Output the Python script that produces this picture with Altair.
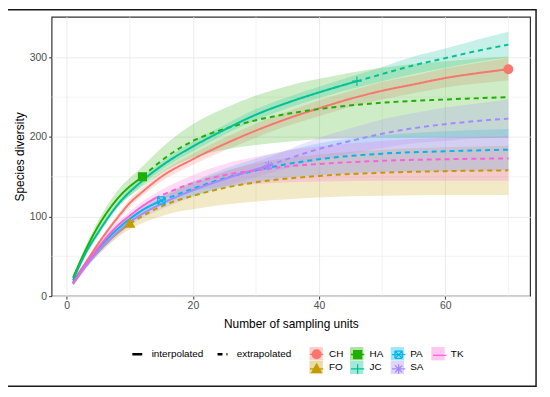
import altair as alt
import pandas as pd

# ---------------- data ----------------
sites = ["CH", "FO", "HA", "JC", "PA", "SA", "TK"]
obs_n = [70, 10, 12, 46, 15, 32, 14]          # observed sample size per site
site_colors = ["#F8766D", "#C49A00", "#1FAF00", "#00C094", "#00B6EB", "#A58AFF", "#FB61D7"]

CH_x = [1, 3, 5, 8, 10, 12, 15, 20, 25, 30, 35, 40, 45, 50, 55, 60, 65, 70]
CH_y = [18, 42, 66, 98, 117, 131, 150, 172, 191, 208, 223, 236, 248, 258, 266, 274, 280, 285]
CH_lo = [16, 39, 63, 94, 112, 126, 144, 165, 183, 199, 214, 226, 238, 247, 255, 262, 267, 271]
CH_hi = [20, 45, 69, 102, 122, 136, 156, 179, 199, 217, 232, 246, 258, 269, 277, 286, 293, 299]

FO_x = [1, 3, 5, 8, 10, 13, 16, 20, 25, 30, 40, 50, 60, 70]
FO_y = [16, 38, 56, 79, 91, 105, 116, 126, 136, 143, 151, 155, 157, 158]
FO_lo = [14, 35, 52, 73, 84, 95, 103, 109, 115, 119, 124, 126, 127, 127]
FO_hi = [18, 41, 60, 85, 98, 115, 129, 143, 157, 167, 178, 184, 187, 189]

HA_x = [1, 3, 5, 8, 12, 16, 20, 25, 30, 35, 40, 50, 60, 70]
HA_y = [23, 58, 88, 122, 150, 176, 195, 210, 221, 229, 235, 243, 247, 250]
HA_lo = [20, 53, 81, 112, 137, 159, 174, 184, 190, 194, 197, 199, 199, 199]
HA_hi = [26, 63, 95, 132, 163, 193, 216, 236, 252, 264, 273, 287, 295, 301]

JC_x = [1, 3, 5, 8, 12, 16, 20, 25, 30, 35, 40, 46, 50, 55, 60, 65, 70]
JC_y = [20, 54, 80, 114, 145, 169, 188, 209, 228, 243, 256, 270, 279, 290, 299, 308, 316]
JC_lo = [18, 51, 76, 110, 140, 164, 182, 203, 221, 236, 249, 262, 270, 279, 287, 294, 300]
JC_hi = [22, 57, 84, 118, 150, 174, 194, 215, 235, 250, 263, 278, 288, 301, 311, 322, 332]

PA_x = [1, 3, 5, 8, 10, 12, 15, 20, 25, 30, 35, 40, 50, 60, 70]
PA_y = [17, 40, 60, 84, 97, 108, 120, 135, 148, 158, 166, 172, 179, 182, 184]
PA_lo = [15, 37, 56, 80, 92, 103, 114, 126, 136, 143, 149, 152, 156, 157, 158]
PA_hi = [19, 43, 64, 88, 102, 113, 126, 144, 160, 173, 183, 192, 202, 207, 210]

SA_x = [1, 3, 5, 8, 10, 15, 20, 25, 32, 36, 40, 45, 50, 55, 60, 65, 70]
SA_y = [15, 37, 56, 80, 93, 116, 133, 147, 164, 175, 185, 195, 204, 211, 216, 220, 223]
SA_lo = [13, 34, 52, 75, 88, 109, 125, 138, 154, 163, 171, 179, 186, 192, 195, 198, 199]
SA_hi = [17, 40, 60, 85, 98, 123, 141, 156, 174, 187, 199, 211, 222, 230, 237, 242, 247]

TK_x = [1, 3, 5, 8, 10, 12, 14, 20, 25, 30, 35, 40, 50, 60, 70]
TK_y = [16, 40, 61, 88, 101, 113, 123, 142, 152, 158, 163, 166, 170, 172, 173]
TK_lo = [14, 37, 57, 83, 96, 107, 117, 132, 138, 141, 143, 144, 145, 145, 145]
TK_hi = [18, 43, 65, 93, 106, 119, 129, 152, 166, 175, 183, 188, 195, 199, 201]

x_ticks = [0, 20, 40, 60]
y_ticks = [0, 100, 200, 300]
minor_x = [10, 30, 50, 70]
minor_y = [50, 150, 250]
methods = ["interpolated", "extrapolated"]

series = {
    "CH": (CH_x, CH_y, CH_lo, CH_hi), "FO": (FO_x, FO_y, FO_lo, FO_hi),
    "HA": (HA_x, HA_y, HA_lo, HA_hi), "JC": (JC_x, JC_y, JC_lo, JC_hi),
    "PA": (PA_x, PA_y, PA_lo, PA_hi), "SA": (SA_x, SA_y, SA_lo, SA_hi),
    "TK": (TK_x, TK_y, TK_lo, TK_hi),
}

band_rows, line_rows, point_rows = [], [], []
for s, n in zip(sites, obs_n):
    xs, ys, los, his = series[s]
    for x, y, lo, hi in zip(xs, ys, los, his):
        band_rows.append({"site": s, "x": x, "lo": lo, "hi": hi})
        if x <= n:
            line_rows.append({"site": s, "x": x, "y": y, "method": methods[0]})
        if x >= n:
            line_rows.append({"site": s, "x": x, "y": y, "method": methods[1]})
        if x == n:
            point_rows.append({"site": s, "x": x, "y": y})

band_df = pd.DataFrame(band_rows)
line_df = pd.DataFrame(line_rows)
point_df = pd.DataFrame(point_rows)
empty_df = pd.DataFrame({"site": pd.Series([], dtype=str), "x": pd.Series([], dtype=float),
                         "y": pd.Series([], dtype=float)})


# ---------------- marker glyphs (stroked paths in the unit square) ----------------
def circ(r):
    return f"M{r},0A{r},{r},0,1,1,{-r},0A{r},{r},0,1,1,{r},0Z"


def hline(x0, x1, y):
    return f"M{x0:.3f},{y:.3f}L{x1:.3f},{y:.3f}"


def solid_circle():
    return "".join(circ(r) for r in (0.66, 0.52, 0.38, 0.24, 0.1))


def solid_square(h=0.6):
    p = f"M{-h},{-h}L{h},{-h}L{h},{h}L{-h},{h}Z"
    y = -h
    while y <= h + 1e-9:
        p += hline(-h, h, y)
        y += 0.13
    return p


def solid_triangle(top=-0.72, base=0.52, hw=0.7):
    p = f"M0,{top}L{hw},{base}L{-hw},{base}Z"
    y = top + 0.13
    while y <= base + 1e-9:
        w = hw * (y - top) / (base - top)
        p += hline(-w, w, y)
        y += 0.13
    return p


h = 0.55
boxed_x = (f"M{-h},{-h}L{h},{-h}M{h},{-h}L{h},{h}M{h},{h}L{-h},{h}M{-h},{h}L{-h},{-h}"
           f"M{-h},{-h}L{h},{h}M{h},{-h}L{-h},{h}")
plus = "M-0.72,0L0.72,0M0,-0.72L0,0.72"
aster = plus + "M-0.52,-0.52L0.52,0.52M0.52,-0.52L-0.52,0.52"
glyphs = [solid_circle(), solid_triangle(), solid_square(), plus, boxed_x, aster, "M0,0"]
key_line = "M-1,0L1,0"
legend_glyphs = [key_line + g for g in glyphs]

# ---------------- encodings ----------------
FONT = "Liberation Sans"
xscale = alt.Scale(domain=[-2.4, 73.45], nice=False, zero=False)
yscale = alt.Scale(domain=[0, 351], nice=False, zero=False)
xaxis = alt.Axis(values=x_ticks, title="Number of sampling units", titlePadding=7)
yaxis = alt.Axis(values=y_ticks, title="Species diversity", titlePadding=3)


def xenc(field="x"):
    return alt.X(f"{field}:Q", scale=xscale, axis=xaxis, title="Number of sampling units")


def yenc(field):
    return alt.Y(f"{field}:Q", scale=yscale, axis=yaxis, title="Species diversity")


cscale = alt.Scale(domain=sites, range=site_colors)
LX, LY, SYM = 260, 333, 180

minor_v = alt.Chart(pd.DataFrame({"x": minor_x})).mark_rule(
    color="#EBEBEB", strokeWidth=0.6).encode(x=xenc())
minor_h = alt.Chart(pd.DataFrame({"y": minor_y})).mark_rule(
    color="#EBEBEB", strokeWidth=0.6).encode(y=yenc("y"))

bands = alt.Chart(band_df).mark_area(fillOpacity=0.22, interpolate="monotone").encode(
    x=xenc(), y=yenc("lo"), y2="hi:Q",
    color=alt.Color("site:N", scale=cscale, legend=alt.Legend(
        orient="none", legendX=LX, legendY=LY, direction="vertical", columns=4, title=None,
        symbolType="square", symbolSize=SYM, symbolOpacity=0.36, symbolStrokeWidth=0,
        labelOffset=6, columnPadding=6, rowPadding=0, gridAlign="all",
        labelFontSize=10, labelFont=FONT, labelColor="black")),
)

lines = alt.Chart(line_df).mark_line(strokeWidth=2, interpolate="monotone").encode(
    x=xenc(), y=yenc("y"),
    color=alt.Color("site:N", scale=cscale, legend=None),
    strokeDash=alt.StrokeDash(
        "method:N",
        scale=alt.Scale(domain=methods, range=[[1, 0], [5, 4]]),
        legend=alt.Legend(orient="none", legendX=80, legendY=334, direction="horizontal",
                          columns=2, title=None, symbolType="stroke", symbolSize=100,
                          symbolStrokeColor="black", symbolStrokeWidth=2.5,
                          labelFontSize=10, labelFont=FONT, labelColor="black",
                          labelOffset=8, columnPadding=8)),
)

points = alt.Chart(point_df).mark_point(filled=False, size=SYM, strokeWidth=1.2, opacity=1).encode(
    x=xenc(), y=yenc("y"),
    color=alt.Color("site:N", scale=cscale, legend=None),
    shape=alt.Shape("site:N", scale=alt.Scale(domain=sites, range=glyphs), legend=None),
)

# legend-only layer: glyph + key line drawn over the translucent key squares
gleg = alt.Legend(orient="none", legendX=LX, legendY=LY, direction="vertical", columns=4,
                  title=None, symbolSize=SYM, symbolStrokeWidth=1.3, symbolOpacity=1,
                  labelExpr="''", labelOffset=0, columnPadding=22.4, rowPadding=0,
                  gridAlign="all", labelFontSize=10, labelFont=FONT)
legend_layer = alt.Chart(empty_df).mark_point(filled=False, size=SYM, strokeWidth=1.3).encode(
    x=xenc(), y=yenc("y"),
    color=alt.Color("site:N", scale=cscale, legend=gleg),
    shape=alt.Shape("site:N", scale=alt.Scale(domain=sites, range=legend_glyphs), legend=gleg),
)

border = alt.Chart(pd.DataFrame({"a": [0]})).mark_rect(
    fillOpacity=0, stroke="#1A1A1A", strokeWidth=1.5, clip=False).encode(
    x=alt.value(-45), x2=alt.value(489), y=alt.value(-7), y2=alt.value(373))

chart = alt.layer(minor_v, minor_h, bands, lines, points, legend_layer, border).resolve_scale(
    color="independent", shape="independent"
).properties(
    width=483, height=282,
    padding={"left": 44, "top": 7, "right": 12, "bottom": 100},
    autosize=alt.AutoSizeParams(type="none"),
).configure_view(
    stroke="#333333", strokeWidth=1.2
).configure_axis(
    labelFont=FONT, titleFont=FONT, labelFontSize=10.5, labelColor="#4D4D4D",
    titleFontSize=12, titleColor="black", titleFontWeight="normal",
    tickColor="#333333", tickSize=3, domain=False, gridColor="#EBEBEB", gridWidth=1,
    labelPadding=2,
)

chart.save("out.html", embed_options={"renderer": "svg", "actions": False})
